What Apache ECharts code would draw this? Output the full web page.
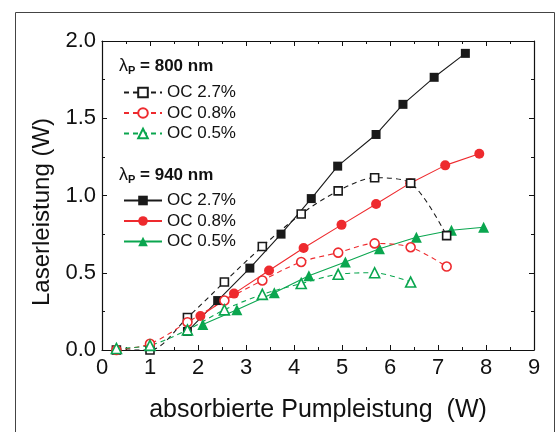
<!DOCTYPE html>
<html><head><meta charset="utf-8">
<script src="https://cdn.jsdelivr.net/npm/echarts@6/dist/echarts.min.js"></script>
<style>html,body{margin:0;padding:0;background:#fff}#c{width:555px;height:432px}</style>
</head><body><div id="c"></div>
<script>
// ---- data ----
const x800   = [0.3, 1.0, 1.78, 2.55, 3.34, 4.15, 4.92, 5.68, 6.43, 7.18];
const y800_27 = [0.0, 0.0, 0.21, 0.44, 0.67, 0.88, 1.03, 1.115, 1.08, 0.74];
const y800_08 = [0.0, 0.04, 0.18, 0.32, 0.45, 0.57, 0.63, 0.69, 0.665, 0.54];
const y800_05 = [0.01, 0.03, 0.13, 0.26, 0.36, 0.43, 0.49, 0.50, 0.44];
const x940_27 = [1.78, 2.41, 3.08, 3.73, 4.36, 4.91, 5.71, 6.27, 6.92, 7.57];
const y940_27 = [0.12, 0.32, 0.53, 0.75, 0.98, 1.19, 1.395, 1.59, 1.765, 1.92];
const x940_08 = [2.05, 2.75, 3.48, 4.2, 4.99, 5.71, 6.42, 7.15, 7.86];
const y940_08 = [0.22, 0.365, 0.515, 0.66, 0.81, 0.945, 1.08, 1.195, 1.27];
const x940_05 = [2.1, 2.81, 3.59, 4.31, 5.07, 5.78, 6.55, 7.28, 7.95];
const y940_05 = [0.165, 0.26, 0.37, 0.48, 0.57, 0.655, 0.73, 0.775, 0.795];
const seriesNames = ['OC 2.7%', 'OC 0.8%', 'OC 0.5%'];
const xTitle = 'absorbierte Pumpleistung  (W)';
const yTitle = 'Laserleistung (W)';

const BLACK = '#1a1a1a', RED = '#ee2a2e', GREEN = '#0aa64f';
const FONT = '"Liberation Sans", Arial, sans-serif';
const zip = (xs, ys) => ys.map((y, i) => [xs[i], y]);

function mk(name, xs, ys, color, symbol, size, open) {
  return {
    name, type: 'line', data: zip(xs, ys), symbol, symbolSize: size,
    smooth: open ? 0.3 : false,
    lineStyle: { color, width: 1.1, type: open ? [5, 4] : 'solid' },
    itemStyle: open ? { color: '#fff', borderColor: color, borderWidth: 1.6 } : { color, borderColor: color, borderWidth: 0 },
    emphasis: { disabled: true }, animation: false
  };
}
const series = [
  mk('940 ' + seriesNames[0], x940_27, y940_27, BLACK, 'rect', 9, false),
  mk('940 ' + seriesNames[1], x940_08, y940_08, RED, 'circle', 10, false),
  mk('940 ' + seriesNames[2], x940_05, y940_05, GREEN, 'triangle', 11, false),
  mk('800 ' + seriesNames[0], x800, y800_27, BLACK, 'rect', 8, true),
  mk('800 ' + seriesNames[1], x800, y800_08, RED, 'circle', 9, true),
  mk('800 ' + seriesNames[2], x800.slice(0, y800_05.length), y800_05, GREEN, 'triangle', 10, true)
];

const L = 102, R = 534, T = 41, B = 350;
const axisCommon = {
  min: 0, axisLine: { show: true, onZero: false, lineStyle: { color: '#111', width: 1.2 } },
  axisTick: { show: true, inside: true, length: 5, lineStyle: { color: '#111', width: 1 } },
  minorTick: { show: true, splitNumber: 2, length: 3, lineStyle: { color: '#111', width: 1 } },
  splitLine: { show: false }, minorSplitLine: { show: false }
};
const legendCommon = {
  orient: 'vertical', left: 118, itemWidth: 38, itemHeight: 12, itemGap: 3.5,
  selectedMode: false,
  textStyle: { fontFamily: FONT, fontSize: 17, color: '#111' },
  formatter: n => n.replace(/^\d+ /, '')
};
const header = (top, nm) => ({
  type: 'text', left: 119, top,
  style: {
    text: '{l|λ}{p|P}{b| = ' + nm + ' nm}',
    rich: {
      l: { fontFamily: FONT, fontSize: 18, fill: '#111', textFill: '#111' },
      p: { fontFamily: FONT, fontSize: 11, fontWeight: 'bold', fill: '#111', textFill: '#111', padding: [10, 0, 0, 0] },
      b: { fontFamily: FONT, fontSize: 17, fontWeight: 'bold', fill: '#111', textFill: '#111' }
    }
  }
});

const chart = echarts.init(document.getElementById('c'), null, { renderer: 'canvas' });
chart.setOption({
  backgroundColor: '#fff', animation: false,
  grid: { left: L, right: 555 - R, top: T, bottom: 432 - B, containLabel: false },
  xAxis: [
    Object.assign({}, axisCommon, { type: 'value', max: 9, interval: 1, position: 'bottom',
      axisLabel: { color: '#111', fontFamily: FONT, fontSize: 22, margin: 7 },
      name: xTitle, nameLocation: 'middle', nameGap: 48,
      nameTextStyle: { fontFamily: FONT, fontSize: 25, color: '#111' } }),
    Object.assign({}, axisCommon, { type: 'value', max: 9, interval: 1, position: 'top', axisLabel: { show: false } })
  ],
  yAxis: [
    Object.assign({}, axisCommon, { type: 'value', max: 2, interval: 0.5, position: 'left',
      axisLabel: { color: '#111', fontFamily: FONT, fontSize: 22, margin: 6, formatter: v => v.toFixed(1) } }),
    Object.assign({}, axisCommon, { type: 'value', max: 2, interval: 0.5, position: 'right', axisLabel: { show: false } })
  ],
  legend: [
    Object.assign({}, legendCommon, { top: 79, data: series.slice(3).map(s => s.name) }),
    Object.assign({}, legendCommon, { top: 187, data: series.slice(0, 3).map(s => s.name) })
  ],
  graphic: [
    { type: 'rect', left: 13, top: 10, shape: { width: 539, height: 440 }, style: { fill: 'none', stroke: '#444', lineWidth: 1 }, silent: true },
    header(57, '800'),
    header(166, '940'),
    { type: 'text', x: 42, y: 212, rotation: Math.PI / 2,
      style: { text: yTitle, fontFamily: FONT, fontSize: 24, fill: '#111', align: 'center', verticalAlign: 'middle' } }
  ],
  series
});
</script></body></html>
